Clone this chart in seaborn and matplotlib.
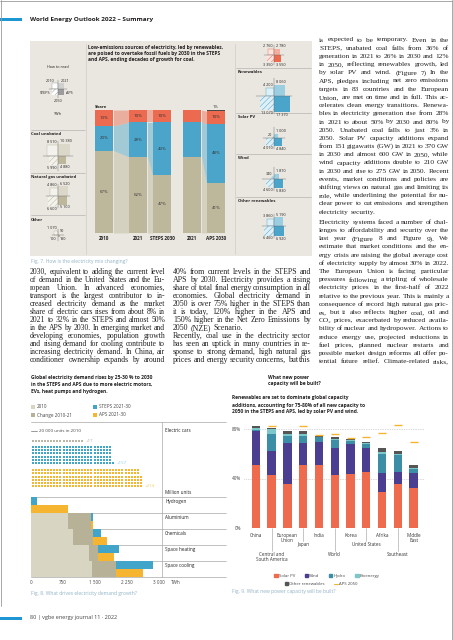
import matplotlib
matplotlib.use("Agg")
import matplotlib.pyplot as plt
import matplotlib.transforms as mtransforms
from matplotlib.patches import Rectangle, Patch
from matplotlib.lines import Line2D
from matplotlib.colors import to_rgb
import numpy as np
import pandas as pd
import seaborn as sns

# Fig. 7 - electricity mix, share in %
mix_years = ["2010", "2021", "STEPS 2030", "2021", "APS 2030"]
mix_fossil = [67, 62, 47, 62, 41]
mix_renewables = [20, 28, 43, 28, 48]
mix_nuclear = [13, 10, 10, 10, 10]
mix_other = [0, 0, 0, 0, 1]
mix_labelled = [True, True, True, False, True]

# Fig. 7 - generation in TWh: 2010, 2021, STEPS 2050, APS 2050
coal_twh = [8510, 10380, 5990, 4880]
gas_twh = [4860, 6520, 6600, 5100]
other_fossil_twh = [1070, 90, 100, 190]
nuclear_twh = [2760, 2780, 3350, 3550]
renewables_twh = [4200, 8060, 13070, 17370]
solar_twh = [20, 1000, 4010, 4840]
wind_twh = [340, 1870, 4600, 5830]
other_ren_twh = [3860, 5190, 6460, 6920]

# Fig. 8 - electric cars (million units) and other drivers (TWh)
ev_change = 17
ev_steps = 157
ev_aps = 214
sectors = ["Hydrogen", "Aluminium", "Chemicals", "Space heating", "Space cooling"]
sector_2010 = [0, 870, 975, 1365, 1425]
sector_change = [0, 530, 465, 210, 565]
sector_steps = [130, 60, 195, 475, 855]
sector_aps = [870, 55, 335, 375, 635]
demand_ticks = [0, 750, 1500, 2250, 3000]

# Fig. 9 - share of new capacity to 2050, %
regions = ["China", "Central and South America", "European Union", "Japan", "India",
           "World", "Korea", "United States", "Afrika", "Southeast", "Middle East"]
region_labels = ["China", "Central and\nSouth America", "European\nUnion", "Japan", "India",
                 "World", "Korea", "United States", "Afrika", "Southeast", "Middle\nEast"]
label_level = [0, 2, 0, 1, 0, 2, 0, 1, 0, 2, 0]
cap_solar = [51, 42.5, 35.8, 51, 51, 43, 44, 45.4, 29.3, 35.2, 32.2]
cap_wind = [27, 19.5, 33, 17.3, 18.7, 22, 24, 19.6, 15.2, 10.2, 12.3]
cap_hydro = [1.5, 14, 5.9, 6.4, 3.5, 5.9, 2.3, 3, 15.5, 13.2, 3]
cap_bio = [1.5, 4, 1.5, 1.5, 0.6, 0.9, 0.6, 0.8, 1.5, 1.4, 0.9]
cap_other = [1.5, 1.2, 2.3, 2, 0.9, 1.4, 1.2, 0.6, 3, 2.1, 2.9]
cap_aps_2050 = [np.nan, 82.6, np.nan, 82.6, 75.3, 76.2, 72.4, 73.8, 76.8, 82.9, 69.7]

# body text
col_a = [[
    "2030, equivalent to adding the current level",
    "of demand in the United States and the Eu-",
    "ropean Union. In advanced economies,",
    "transport is the largest contributor to in-",
    "creased electricity demand as the market",
    "share of electric cars rises from about 8% in",
    "2021 to 32% in the STEPS and almost 50%",
    "in the APS by 2030. In emerging market and",
    "developing economies, population growth",
    "and rising demand for cooling contribute to",
    "increasing electricity demand. In China, air",
    "conditioner ownership expands by around",
]]
col_b = [[
    "40% from current levels in the STEPS and",
    "APS by 2030. Electricity provides a rising",
    "share of total final energy consumption in all",
    "economies. Global electricity demand in",
    "2050 is over 75% higher in the STEPS than",
    "it is today, 120% higher in the APS and",
    "150% higher in the Net Zero Emissions by",
    "2050 (NZE) Scenario.",
], [
    "Recently, coal use in the electricity sector",
    "has seen an uptick in many countries in re-",
    "sponse to strong demand, high natural gas",
    "prices and energy security concerns, but this",
]]
col_c = [[
    "is expected to be temporary. Even in the",
    "STEPS, unabated coal falls from 36% of",
    "generation in 2021 to 26% in 2030 and 12%",
    "in 2050, reflecting renewables growth, led",
    "by solar PV and wind. (Figure 7) In the",
    "APS, pledges including net zero emissions",
    "targets in 83 countries and the European",
    "Union, are met on time and in full. This ac-",
    "celerates clean energy transitions. Renewa-",
    "bles in electricity generation rise from 28%",
    "in 2021 to about 50% by 2030 and 80% by",
    "2050. Unabated coal falls to just 3% in",
    "2050. Solar PV capacity additions expand",
    "from 151 gigawatts (GW) in 2021 to 370 GW",
    "in 2030 and almost 600 GW in 2050, while",
    "wind capacity additions double to 210 GW",
    "in 2030 and rise to 275 GW in 2050. Recent",
    "events, market conditions and policies are",
    "shifting views on natural gas and limiting its",
    "role, while underlining the potential for nu-",
    "clear power to cut emissions and strengthen",
    "electricity security.",
], [
    "Electricity systems faced a number of chal-",
    "lenges to affordability and security over the",
    "last year (Figure 8 and Figure 9). We",
    "estimate that market conditions and the en-",
    "ergy crisis are raising the global average cost",
    "of electricity supply by almost 30% in 2022.",
    "The European Union is facing particular",
    "pressures following a tripling of wholesale",
    "electricity prices in the first-half of 2022",
    "relative to the previous year. This is mainly a",
    "consequence of record high natural gas pric-",
    "es, but it also reflects higher coal, oil and",
    "CO\u2082 prices, exacerbated by reduced availa-",
    "bility of nuclear and hydropower. Actions to",
    "reduce energy use, projected reductions in",
    "fuel prices, planned nuclear restarts and",
    "possible market design reforms all offer po-",
    "tential future relief. Climate-related risks,",
]]

# colours
FOSSIL = "#bdb89c"
RENEW = "#4ba5cb"
NUCLEAR = "#ec6a4f"
OTHER = "#4a4a4a"
BOX_BG = "#e9e7e0"
TEXT = "#231f20"
CAPTION = "#93b3c7"
HDR_BLUE = "#1d96d3"
C2010 = "#d9d5c3"
CCHANGE = "#b6b197"
CSTEPS = "#40a5c9"
CAPS = "#f6b531"
SOLAR = "#ee6b4d"
WIND = "#4b3d8f"
HYDRO = "#3b8ea5"
BIO = "#7cc8c9"
OTHERREN = "#555555"
LINE = "#a8a8a8"

sns.set_theme(style="white")
plt.rcParams["font.family"] = ["Open Sans", "DejaVu Sans"]
plt.rcParams["hatch.linewidth"] = 0.35
SERIF = ["Liberation Serif", "DejaVu Serif"]

W, H = 453, 640
fig = plt.figure(figsize=(W / 100, H / 100), dpi=100)
page = fig.add_axes([0, 0, 1, 1])
page.set_xlim(0, W)
page.set_ylim(H, 0)
page.axis("off")
renderer = fig.canvas.get_renderer()


def px_axes(x0, y0, x1, y1):
    ax = fig.add_axes([x0 / W, 1 - y1 / H, (x1 - x0) / W, (y1 - y0) / H])
    ax.set_facecolor("none")
    for s in ax.spines.values():
        s.set_visible(False)
    return ax


def tint(c, f):
    r = np.array(to_rgb(c))
    return tuple(1 - f * (1 - r))


def hline(y, x0, x1, **kw):
    page.plot([x0, x1], [y, y], color=kw.get("color", LINE), lw=kw.get("lw", 0.4))


def vline(x, y0, y1, **kw):
    page.plot([x, x], [y0, y1], color=kw.get("color", LINE), lw=kw.get("lw", 0.4))


def txt(x, y, s, size=3.4, **kw):
    kw.setdefault("color", TEXT)
    kw.setdefault("va", "center")
    page.text(x, y, s, fontsize=size, **kw)


# ---------- page frame, header, footer
vline(0.5, 0, 606, color="#9a9a9a", lw=0.6)
hline(0.5, 0, 452, color="#9a9a9a", lw=0.6)
vline(452, 0, 640, color="#9a9a9a", lw=0.6)
page.add_patch(Rectangle((0, 17.5), 22, 3.5, color=HDR_BLUE, lw=0))
txt(30, 19, "World Energy Outlook 2022 \u2013 Summary", size=4.6, weight="bold")
page.add_patch(Rectangle((0, 616.5), 22, 3.5, color=HDR_BLUE, lw=0))
txt(30, 618, "80 | vgbe energy journal 11 \u00b7 2022", size=4.0, color="#444444")

# ---------- body text, justified
_wcache = {}
BASE_FS = 4.6


def word_w(w, fs):
    key = (w, fs)
    if key not in _wcache:
        t = page.text(0, 0, w, fontsize=fs, family=SERIF)
        _wcache[key] = t.get_window_extent(renderer).width
        t.remove()
    return _wcache[key]


def tight_width(line, fs, sp=0.3):
    words = line.split()
    return sum(word_w(w, fs) for w in words) + word_w("n", fs) * sp * (len(words) - 1)


def column(paras, x0, x1, y0, step, gap=0.0, last_open=True):
    colw = x1 - x0
    ratios = [colw / tight_width(l, BASE_FS, 0.55) for p in paras for l in p]
    fs0 = round(BASE_FS * np.percentile(ratios, 30), 2)
    y = y0
    for p, para in enumerate(paras):
        if p > 0:
            y += gap
        for i, line in enumerate(para):
            words = line.split()
            fs = fs0
            tw = tight_width(line, fs)
            if tw > colw:
                fs = round(fs0 * colw / tw, 2)
            widths = [word_w(w, fs) for w in words]
            space = word_w("n", fs) * 0.55
            is_end = i == len(para) - 1 and not (p == len(paras) - 1 and last_open)
            if is_end or len(words) == 1:
                g = space
            else:
                g = (colw - sum(widths)) / (len(words) - 1)
            x = x0
            for w, ww in zip(words, widths):
                page.text(x, y, w, fontsize=fs, family=SERIF, va="center", ha="left", color=TEXT)
                x += ww + g
            y += step


column(col_a, 30, 165, 272, 8.0)
column(col_b, 173, 311, 272, 8.0)
column(col_c, 319, 449, 40, 8.2, gap=2.0, last_open=True)

# ---------- Fig. 7 box
page.add_patch(Rectangle((30, 41), 282, 215, color=BOX_BG, lw=0))
vline(86, 44, 254, color="#cfccc3", lw=0.5)
vline(235, 44, 254, color="#cfccc3", lw=0.5)
for i, line in enumerate(["Low-emissions sources of electricity, led by renewables,",
                          "are poised to overtake fossil fuels by 2030 in the STEPS",
                          "and APS, ending decades of growth for coal."]):
    txt(88, 48 + i * 6, line, size=3.5, weight="bold")


def quad(cx, cy, vals, color, k=0.12, size=2.7):
    s = [np.sqrt(v) * k for v in vals]
    light = tint(color, 0.18)
    mid = tint(color, 0.55)
    page.add_patch(Rectangle((cx - s[0], cy - s[0]), s[0], s[0], fc=light, ec=color, lw=0.3))
    page.add_patch(Rectangle((cx, cy - s[1]), s[1], s[1], fc=mid, ec="none", lw=0))
    page.add_patch(Rectangle((cx - s[2], cy), s[2], s[2], fc=light, ec=color, hatch="//////", lw=0))
    page.add_patch(Rectangle((cx, cy), s[3], s[3], fc=color, ec="none", lw=0))
    r = max(s) + 2.5
    page.plot([cx - r, cx + r], [cy, cy], color="#666666", lw=0.3)
    page.plot([cx, cx], [cy - r, cy + r], color="#666666", lw=0.3)
    lab = [f"{v:,}".replace(",", " ") for v in vals]
    txt(cx - 1.5, cy - s[0] - 0.8, lab[0], size=size, ha="right", va="bottom")
    txt(cx + 1.5, cy - s[1] - 0.8, lab[1], size=size, ha="left", va="bottom")
    txt(cx - 1.5, cy + s[2] + 0.8, lab[2], size=size, ha="right", va="top")
    txt(cx + 1.5, cy + s[3] + 0.8, lab[3], size=size, ha="left", va="top")


# left panel: how to read + fossil quadrants
cx = 58
txt(cx, 67, "How to read", size=2.7, ha="center")
cy = 89
d = 6
page.add_patch(Rectangle((cx - d, cy - d), d, d, fc="white", ec="#999999", lw=0.3))
page.add_patch(Rectangle((cx, cy - d), d, d, fc="#cfcfcf", lw=0))
page.add_patch(Rectangle((cx - d, cy), d, d, fc="white", ec="#999999", hatch="//////", lw=0))
page.add_patch(Rectangle((cx, cy), d, d, fc="#9c9c9c", lw=0))
page.plot([cx - 9, cx + 9], [cy, cy], color="#666666", lw=0.3)
page.plot([cx, cx], [cy - 9, cy + 9], color="#666666", lw=0.3)
txt(cx - 3, cy - 8.5, "2010", size=2.7, ha="right")
txt(cx + 3, cy - 8.5, "2021", size=2.7, ha="left")
txt(cx - 8, cy + 4, "STEPS", size=2.7, ha="right")
txt(cx + 8, cy + 4, "APS", size=2.7, ha="left")
txt(cx, cy + 12, "2050", size=2.7, ha="center")
txt(cx, 114, "TWh", size=2.7, ha="center")

hline(130, 31, 85)
txt(31, 134, "Coal unabated", size=3.0, weight="bold")
quad(cx, 156, coal_twh, FOSSIL)
hline(173, 31, 85)
txt(31, 177, "Natural gas unabated", size=3.0, weight="bold")
quad(cx, 196, gas_twh, FOSSIL)
hline(215, 31, 85)
txt(31, 220, "Other", size=3.0, weight="bold")
quad(cx, 235, other_fossil_twh, FOSSIL)

# right panel: nuclear + renewables quadrants
rx = 274
quad(rx, 55, nuclear_twh, NUCLEAR)
hline(68, 236, 311)
txt(238, 72, "Renewables", size=3.0, weight="bold")
quad(rx, 96, renewables_twh, RENEW)
hline(113, 236, 311)
txt(238, 117, "Solar PV", size=3.0, weight="bold")
quad(rx, 138, solar_twh, RENEW)
hline(154, 236, 311)
txt(238, 158, "Wind", size=3.0, weight="bold")
quad(rx, 179, wind_twh, RENEW)
hline(197, 236, 311)
txt(238, 201, "Other renewables", size=3.0, weight="bold")
quad(rx, 226, other_ren_twh, RENEW)

# stacked share bars
ax7 = px_axes(88, 110, 234, 233)
xpos = [0, 1.7, 2.9, 4.4, 5.6]
c1 = np.array(mix_fossil, float)
c2 = c1 + np.array(mix_renewables)
c3 = c2 + np.array(mix_nuclear)
c4 = c3 + np.array(mix_other)
for vals, col in [(c4, OTHER), (c3, NUCLEAR), (c2, RENEW), (c1, FOSSIL)]:
    sns.barplot(x=xpos, y=vals, native_scale=True, orient="x", width=0.79, color=col,
                saturation=1, errorbar=None, linewidth=0, edgecolor="none", ax=ax7)
half = 0.79 * 1.2 / 2
bounds = [np.zeros(5), c1, c2, c3]
for a, b in [(0, 1), (1, 2), (3, 4)]:
    xs = [xpos[a] + half, xpos[b] - half]
    for j, col in enumerate([FOSSIL, RENEW, NUCLEAR]):
        ax7.fill_between(xs, [bounds[j][a], bounds[j][b]], [bounds[j + 1][a], bounds[j + 1][b]],
                         color=col, alpha=0.45, lw=0)
for i, x in enumerate(xpos):
    if mix_labelled[i]:
        for lo, hi in [(0, c1[i]), (c1[i], c2[i]), (c2[i], c3[i])]:
            ax7.text(x, (lo + hi) / 2, f"{hi - lo:.0f}%", ha="center", va="center",
                     fontsize=3.2, color="#333333")
    ax7.text(x, -2.5, mix_years[i], ha="center", va="top", fontsize=3.3,
             weight="bold", color=TEXT, clip_on=False)
ax7.text(xpos[4], 101, f"{mix_other[4]}%", ha="center", va="bottom", fontsize=3.1, color="#333333")
ax7.text(xpos[0] - half, 101, "Share", ha="left", va="bottom", fontsize=3.1, weight="bold", color=TEXT)
ax7.set_xlim(-0.8, 6.5)
ax7.set_ylim(0, 100)
ax7.set_xticks([])
ax7.set_yticks([])
ax7.set_xlabel("")
ax7.set_ylabel("")

page.legend([Patch(color=FOSSIL), Patch(color=RENEW), Patch(color=NUCLEAR), Patch(color=OTHER)],
            ["Unabated fossil fuels", "Renewables", "Nuclear", "Other"],
            loc="center", bbox_to_anchor=(160, 252), bbox_transform=page.transData, ncol=4,
            frameon=False, fontsize=3.0, handlelength=0.8, handleheight=0.8,
            handletextpad=0.3, columnspacing=0.9, borderpad=0, labelcolor="#555555")
txt(31, 262, "Fig. 7. How is the electricity mix changing?", size=3.6, color=CAPTION)

# ---------- Fig. 8
for i, line in enumerate(["Global electricity demand rises by 25-30 % to 2030",
                          "in the STEPS and APS due to more electric motors,",
                          "EVs, heat pumps and hydrogen."]):
    txt(31, 377 + i * 7, line, size=3.5, weight="bold")
for (lx, ly, lab, col) in [(31, 407, "2010", C2010), (93, 407, "STEPS 2021-30", CSTEPS),
                           (31, 415, "Change 2010-21", CCHANGE), (93, 415, "APS 2021-30", CAPS)]:
    page.add_patch(Rectangle((lx, ly - 2), 4, 4, color=col, lw=0))
    txt(lx + 6, ly, lab, size=3.3, color="#444444")

hline(422, 31, 226, lw=0.5)
vline(162, 422, 577, lw=0.5)
for yb in [497, 513, 529, 545, 561, 577]:
    hline(yb, 31, 226, lw=0.5)
page.plot([31, 37], [431, 431], color="#8a8a8a", lw=0.6)
txt(39, 431, "20 000 units in 2010", size=3.2, color="#444444")
txt(165, 430, "Electric cars", size=3.3)
txt(165, 492, "Million units", size=3.3)
for i, name in enumerate(sectors):
    txt(165, 501.5 + 16 * i, name, size=3.3)

# electric cars waffle, one cell per million units
axev = px_axes(31, 436, 162, 492)
gx = np.arange(ev_change) + 0.5
sns.scatterplot(x=gx, y=np.full(ev_change, 1.6), marker="s", s=3.2, color="#b9b6a5",
                linewidth=0, ax=axev)
nrow = 6
for n, col, y0 in [(ev_steps, CSTEPS, 3.6), (ev_aps, CAPS, 11.4)]:
    idx = np.arange(n)
    sns.scatterplot(x=idx // nrow + 0.5, y=y0 + (nrow - 1 - idx % nrow) * 1.08, marker="s", s=3.4,
                    color=col, linewidth=0, ax=axev)
axev.text(ev_change + 0.8, 1.6, f"+{ev_change}", fontsize=3.2, color="#b0ada0", va="center")
axev.text(ev_steps // nrow + 1.8, 3.6 + (nrow - 1) * 1.08, f"+{ev_steps}", fontsize=3.2,
          color="#8cc9e0", va="center")
axev.text(ev_aps // nrow + 1.8, 11.4 + (nrow - 1) * 1.08, f"+{ev_aps}", fontsize=3.2,
          color="#f5c96a", va="center")
axev.set_xlim(0, 131 / 3.1)
axev.set_ylim(56 / 3.0, 0)
axev.set_xticks([])
axev.set_yticks([])
axev.set_xlabel("")
axev.set_ylabel("")

# demand drivers
ax8 = px_axes(31, 497, 162, 577)
df8 = pd.DataFrame({"sector": sectors, "y2010": sector_2010, "change": sector_change,
                    "steps": sector_steps, "aps": sector_aps})
df8["base"] = df8["y2010"] + df8["change"]
long8 = pd.DataFrame({"sector": sectors * 2,
                      "scenario": ["STEPS"] * 5 + ["APS"] * 5,
                      "value": list(df8["base"] + df8["steps"]) + list(df8["base"] + df8["aps"])})
sns.barplot(data=long8, y="sector", x="value", hue="scenario", hue_order=["STEPS", "APS"],
            palette={"STEPS": CSTEPS, "APS": CAPS}, orient="y", width=0.96, dodge=True,
            saturation=1, errorbar=None, legend=False, linewidth=0, ax=ax8)
sns.barplot(data=df8, y="sector", x="base", orient="y", color=CCHANGE, width=0.96,
            saturation=1, errorbar=None, linewidth=0, ax=ax8)
sns.barplot(data=df8, y="sector", x="y2010", orient="y", color=C2010, width=0.96,
            saturation=1, errorbar=None, linewidth=0, ax=ax8)
ax8.set_xlim(0, 3063)
ax8.set_ylim(4.5, -0.5)
ax8.set_yticks([])
ax8.set_xticks(demand_ticks)
ax8.set_xticklabels([f"{t:,}".replace(",", " ") for t in demand_ticks])
ax8.tick_params(axis="x", length=0, pad=2.2, labelsize=3.3, labelcolor="#444444")
ax8.set_xlabel("")
ax8.set_ylabel("")
txt(171, 582.5, "TWh", size=3.3, color="#444444")
txt(31, 593, "Fig. 8. What drives electricity demand growth?", size=3.6, color=CAPTION)

# ---------- Fig. 9
txt(268, 377, "What new power", size=3.5, weight="bold")
txt(268, 383.5, "capacity will be built?", size=3.5, weight="bold")
for i, line in enumerate(["Renewables are set to dominate global capacity",
                          "additions, accounting for 75-80% of all new capacity to",
                          "2050 in the STEPS and APS, led by solar PV and wind."]):
    txt(232, 398 + i * 7, line, size=3.5, weight="bold")

base_y = 528
ax9 = px_axes(244, base_y - 85 * (base_y - 429) / 80, 425, base_y)
df9 = pd.DataFrame({"region": regions, "solar": cap_solar, "wind": cap_wind,
                    "hydro": cap_hydro, "bio": cap_bio, "other": cap_other})
cum9 = df9[["solar", "wind", "hydro", "bio", "other"]].cumsum(axis=1)
for key, col in [("other", OTHERREN), ("bio", BIO), ("hydro", HYDRO), ("wind", WIND), ("solar", SOLAR)]:
    sns.barplot(x=df9["region"], y=cum9[key], order=regions, color=col, width=0.53,
                saturation=1, errorbar=None, linewidth=0, ax=ax9, zorder=2)
ax9.scatter(np.arange(len(regions)), cap_aps_2050, marker="_", s=30, linewidths=1.0,
            color=CAPS, zorder=3)
ax9.set_xlim(-0.75, 10.72)
ax9.set_ylim(0, 85)
ax9.set_yticks([0, 40, 80])
ax9.set_yticklabels(["0%", "40%", "80%"])
ax9.tick_params(axis="y", length=0, pad=2.0, labelsize=3.3, labelcolor="#444444")
ax9.set_xticks([])
ax9.set_xlabel("")
ax9.set_ylabel("")
for yv in [40, 80]:
    ax9.axhline(yv, color="#b5b5b5", lw=0.5, ls=(0, (1, 1.5)), zorder=1)
ax9.axhline(0, color="#9a9a9a", lw=0.6, zorder=3)
tr = mtransforms.blended_transform_factory(ax9.transData, page.transData)
level_y = [base_y + 5, base_y + 14, base_y + 24]
for i, lab in enumerate(region_labels):
    ly = level_y[label_level[i]]
    if label_level[i] > 0:
        page.plot([i, i], [base_y, ly - 1], transform=tr, color="#9a9a9a", lw=0.4)
    page.text(i, ly, lab, transform=tr, ha="center", va="top", fontsize=3.3,
              color="#333333", linespacing=1.05)

leg1 = page.legend([Patch(color=SOLAR), Patch(color=WIND), Patch(color=HYDRO), Patch(color=BIO)],
                   ["Solar PV", "Wind", "Hydro", "Bioenergy"], loc="center",
                   bbox_to_anchor=(327, 576), bbox_transform=page.transData, ncol=4,
                   frameon=False, fontsize=3.1, handlelength=0.8, handleheight=0.8,
                   handletextpad=0.3, columnspacing=2.2, borderpad=0, labelcolor="#444444")
page.add_artist(leg1)
page.legend([Patch(color=OTHERREN), Line2D([], [], color=CAPS, lw=0.8)],
            ["Other renewables", "APS 2050"], loc="center",
            bbox_to_anchor=(321, 584), bbox_transform=page.transData, ncol=2,
            frameon=False, fontsize=3.1, handlelength=0.8, handleheight=0.8,
            handletextpad=0.3, columnspacing=2.2, borderpad=0, labelcolor="#444444")
txt(232, 591, "Fig. 9. What new power capacity will be built?", size=3.6, color=CAPTION)

fig.savefig("out.png", dpi=100)
